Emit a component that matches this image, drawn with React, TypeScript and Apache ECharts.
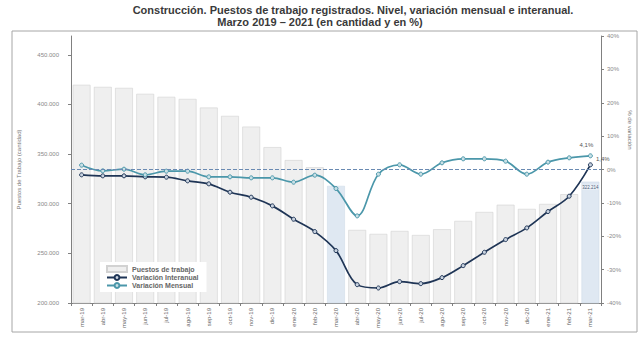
import React, { useEffect, useRef } from "react";
import * as echarts from "echarts";

const categories = [
  "mar-19", "abr-19", "may-19", "jun-19", "jul-19", "ago-19", "sep-19", "oct-19", "nov-19", "dic-19",
  "ene-20", "feb-20", "mar-20", "abr-20", "may-20", "jun-20", "jul-20", "ago-20", "sep-20", "oct-20",
  "nov-20", "dic-20", "ene-21", "feb-21", "mar-21",
];
const puestos = [
  419800, 417700, 416700, 410700, 407700, 405600, 396900, 388500, 377700, 357000,
  344000, 336800, 318000, 273600, 269600, 272600, 268500, 274300, 282700, 291700,
  299000, 294800, 299800, 309600, 322214,
];
const interanual = [
  -1.6, -1.9, -1.9, -2.2, -2.3, -3.4, -4.3, -6.8, -8.3, -10.9,
  -14.9, -18.6, -24.3, -34.5, -35.5, -33.6, -34.2, -32.4, -28.8, -24.8,
  -21.0, -17.5, -12.6, -8.0, 1.4,
];
const mensual = [
  1.3, -0.4, 0.1, -1.6, -0.5, -0.5, -2.2, -2.2, -2.5, -2.5,
  -3.8, -1.7, -5.7, -13.9, -1.4, 1.4, -1.4, 2.0, 3.2, 3.2,
  2.5, -1.4, 2.2, 3.5, 4.1,
];
const highlighted = ["mar-20", "mar-21"];

const FONT = "Liberation Sans, Arial, sans-serif";

export default function App() {
  const ref = useRef<HTMLDivElement>(null);
  useEffect(() => {
    if (!ref.current) return;
    const chart = echarts.init(ref.current, undefined, { renderer: "svg" });
    const last = categories.length - 1;
    const pct = (p: any) => String(p.value).replace(".", ",") + "%";
    chart.setOption({
      animation: false,
      textStyle: { fontFamily: FONT },
      graphic: [
        {
          type: "rect",
          shape: { x: 12, y: 31, width: 625, height: 301 },
          style: { fill: "none", stroke: "#a6a6a6", lineWidth: 1 },
          silent: true,
        },
        {
          type: "text",
          x: 353,
          y: 10,
          style: {
            text: "Construcción. Puestos de trabajo registrados. Nivel, variación mensual e interanual.",
            font: "bold 11px " + FONT,
            fill: "#3a3a3a",
            align: "center",
            verticalAlign: "middle",
          },
        },
        {
          type: "text",
          x: 320,
          y: 22,
          style: {
            text: "Marzo 2019 – 2021 (en cantidad y en %)",
            font: "bold 11px " + FONT,
            fill: "#3a3a3a",
            align: "center",
            verticalAlign: "middle",
          },
        },
        {
          type: "text",
          x: 630,
          y: 130,
          rotation: -Math.PI / 2,
          style: {
            text: "% de variación",
            font: "6px " + FONT,
            fill: "#777",
            align: "center",
            verticalAlign: "middle",
          },
        },
      ],
      grid: { left: 71, right: 39, top: 36, bottom: 35 },
      legend: {
        orient: "vertical",
        left: 100,
        top: 262,
        backgroundColor: "#ffffff",
        padding: [3, 8, 3, 6],
        itemGap: 1,
        itemWidth: 20,
        itemHeight: 6,
        textStyle: { fontSize: 7, fontWeight: "bold", color: "#666", fontFamily: FONT },
        data: [
          { name: "Puestos de trabajo", icon: "rect" },
          { name: "Variación Interanual" },
          { name: "Variación Mensual" },
        ],
      },
      xAxis: {
        type: "category",
        data: categories,
        boundaryGap: true,
        axisLine: { onZero: false, lineStyle: { color: "#808080" } },
        axisTick: { show: true, length: 3, lineStyle: { color: "#808080" } },
        axisLabel: { rotate: 90, fontSize: 6, color: "#666", interval: 0, margin: 5 },
      },
      yAxis: [
        {
          type: "value",
          min: 200000,
          max: 469000,
          interval: 50000,
          name: "Puestos de Trabajo (cantidad)",
          nameLocation: "middle",
          nameGap: 49,
          nameTextStyle: { fontSize: 6, color: "#777" },
          axisLine: { show: true, lineStyle: { color: "#808080" } },
          axisTick: { show: true, length: 3, lineStyle: { color: "#808080" } },
          axisLabel: {
            fontSize: 6,
            color: "#888",
            margin: 12,
            showMaxLabel: false,
            formatter: (v: number) => (v % 50000 === 0 ? v.toLocaleString("de-DE") : ""),
          },
          splitLine: { show: false },
        },
        {
          type: "value",
          min: -40,
          max: 40,
          interval: 10,
          position: "right",
          axisLine: { show: true, lineStyle: { color: "#808080" } },
          axisTick: { show: true, length: 3, lineStyle: { color: "#808080" } },
          axisLabel: { fontSize: 6, color: "#888", margin: 6, formatter: "{value}%" },
          splitLine: { show: false },
        },
      ],
      series: [
        {
          name: "Puestos de trabajo",
          type: "bar",
          yAxisIndex: 0,
          barCategoryGap: "16%",
          itemStyle: { color: "#efefef", borderColor: "#d2d2d2", borderWidth: 0.6 },
          data: puestos.map((v, i) => ({
            value: v,
            itemStyle: highlighted.includes(categories[i])
              ? { color: "#dfe8f2", borderColor: "#d0dbe8" }
              : undefined,
            label:
              i === last
                ? {
                    show: true,
                    position: "insideTop",
                    offset: [0, -2],
                    fontSize: 4.5,
                    color: "#4a5d7a",
                    backgroundColor: "#eef2f7",
                    formatter: (p: any) => p.value.toLocaleString("de-DE"),
                  }
                : undefined,
          })),
        },
        {
          name: "Variación Interanual",
          type: "line",
          yAxisIndex: 1,
          smooth: 0.35,
          symbol: "circle",
          symbolSize: 4,
          color: "#1f3556",
          lineStyle: { color: "#1f3556", width: 1.7 },
          itemStyle: { color: "#c9d3e0", borderColor: "#1f3556", borderWidth: 1 },
          data: interanual.map((v, i) => ({
            value: v,
            label:
              i === last
                ? {
                    show: true,
                    position: "right",
                    offset: [-2, -6],
                    fontSize: 6,
                    color: "#555",
                    formatter: pct,
                  }
                : undefined,
          })),
          z: 3,
        },
        {
          name: "Variación Mensual",
          type: "line",
          yAxisIndex: 1,
          smooth: 0.35,
          symbol: "circle",
          symbolSize: 4,
          color: "#4b97aa",
          lineStyle: { color: "#4b97aa", width: 1.7 },
          itemStyle: { color: "#c9e0e6", borderColor: "#4b97aa", borderWidth: 1 },
          data: mensual.map((v, i) => ({
            value: v,
            label:
              i === last
                ? {
                    show: true,
                    position: "top",
                    offset: [-4, 0],
                    fontSize: 6,
                    color: "#555",
                    formatter: pct,
                  }
                : undefined,
          })),
          markLine: {
            silent: true,
            symbol: "none",
            label: { show: false },
            lineStyle: { color: "#6a8ab2", type: "dashed", width: 1 },
            data: [{ yAxis: 0 }],
          },
          z: 4,
        },
      ],
    });
    return () => chart.dispose();
  }, []);
  return (
    <div
      ref={ref}
      style={{ position: "absolute", left: 0, top: 0, width: 640, height: 338 }}
    />
  );
}
